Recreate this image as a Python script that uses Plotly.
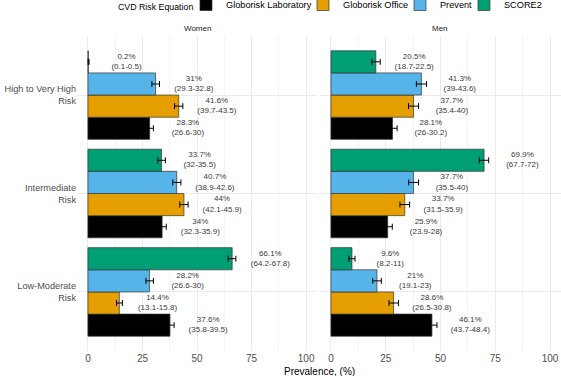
import plotly.graph_objects as go

# ---------------- data ----------------
categories = ["High to Very High Risk", "Intermediate Risk", "Low-Moderate Risk"]
category_ticktext = ["High to Very High<br>Risk", "Intermediate<br>Risk", "Low-Moderate<br>Risk"]
equations = ["Globorisk Laboratory", "Globorisk Office", "Prevent", "SCORE2"]
colors = ["#000000", "#E69F00", "#56B4E9", "#009E73"]
panels = ["Women", "Men"]
legend_title = "CVD Risk Equation"
x_title = "Prevalence, (%)"

# values ordered as categories (High, Intermediate, Low)
women_lab = [28.3, 34, 37.6]
women_lab_lo = [26.6, 32.3, 35.8]
women_lab_hi = [30, 35.9, 39.5]
women_office = [41.6, 44, 14.4]
women_office_lo = [39.7, 42.1, 13.1]
women_office_hi = [43.5, 45.9, 15.8]
women_prevent = [31, 40.7, 28.2]
women_prevent_lo = [29.3, 38.9, 26.6]
women_prevent_hi = [32.8, 42.6, 30]
women_score2 = [0.2, 33.7, 66.1]
women_score2_lo = [0.1, 32, 64.2]
women_score2_hi = [0.5, 35.5, 67.8]

men_lab = [28.1, 25.9, 46.1]
men_lab_lo = [26, 23.9, 43.7]
men_lab_hi = [30.2, 28, 48.4]
men_office = [37.7, 33.7, 28.6]
men_office_lo = [35.4, 31.5, 26.5]
men_office_hi = [40, 35.9, 30.8]
men_prevent = [41.3, 37.7, 21]
men_prevent_lo = [39, 35.5, 19.1]
men_prevent_hi = [43.6, 40, 23]
men_score2 = [20.5, 69.9, 9.6]
men_score2_lo = [18.7, 67.7, 8.2]
men_score2_hi = [22.5, 72, 11]

x_ticks = [0, 25, 50, 75, 100]

data = {
    "Women": [
        (women_lab, women_lab_lo, women_lab_hi),
        (women_office, women_office_lo, women_office_hi),
        (women_prevent, women_prevent_lo, women_prevent_hi),
        (women_score2, women_score2_lo, women_score2_hi),
    ],
    "Men": [
        (men_lab, men_lab_lo, men_lab_hi),
        (men_office, men_office_lo, men_office_hi),
        (men_prevent, men_prevent_lo, men_prevent_hi),
        (men_score2, men_score2_lo, men_score2_hi),
    ],
}

# ---------------- styling ----------------
FONT = "Liberation Sans, Arial, sans-serif"
legend_entry_widths = [72, 52, 19, 42]   # px, compact legend spacing
n_cat = len(categories)
cat_pos = [n_cat - 1 - i for i in range(n_cat)]  # High at top
bar_w = 0.9 / len(equations)
label_offset = 17.5

fig = go.Figure()
for p, panel in enumerate(panels):
    xa = "x" if p == 0 else "x2"
    ya = "y" if p == 0 else "y2"
    for j, eq in enumerate(equations):
        vals, lo, hi = data[panel][j]
        ys = [c + (j - (len(equations) - 1) / 2) * bar_w for c in cat_pos]
        fig.add_trace(go.Bar(
            x=vals, y=ys, orientation="h", width=bar_w,
            name=eq, legendgroup=eq, showlegend=(p == 0),
            legendwidth=legend_entry_widths[j],
            marker=dict(color=colors[j], line=dict(color="#333333", width=0.7)),
            error_x=dict(type="data", symmetric=False,
                         array=[h - v for h, v in zip(hi, vals)],
                         arrayminus=[v - l for v, l in zip(vals, lo)],
                         color="#000000", thickness=1, width=3),
            xaxis=xa, yaxis=ya, hoverinfo="skip",
        ))
        fig.add_trace(go.Scatter(
            x=[v + label_offset for v in vals], y=ys, mode="text",
            text=[f"{v:g}%<br>({l:g}-{h:g})" for v, l, h in zip(vals, lo, hi)],
            textposition="middle center",
            textfont=dict(size=8, color="#3a3a3a", family=FONT),
            showlegend=False, hoverinfo="skip", xaxis=xa, yaxis=ya,
        ))

grid = "#ebebeb"
axis_common = dict(
    range=[-5, 105], tickvals=x_ticks, ticktext=[str(t) for t in x_ticks],
    showgrid=True, gridcolor=grid, gridwidth=1, zeroline=False,
    minor=dict(dtick=12.5, tick0=12.5, showgrid=True, gridcolor="#f3f3f3", gridwidth=0.6),
    tickfont=dict(size=10, color="#4d4d4d", family=FONT), ticks="", ticklen=0,
    showline=False, automargin=False, fixedrange=True,
)
yaxis_common = dict(
    range=[-0.6, n_cat - 1 + 0.6], tickvals=cat_pos, ticktext=category_ticktext,
    showgrid=True, gridcolor=grid, gridwidth=1, zeroline=False, ticks="", ticklen=0,
    automargin=False, fixedrange=True,
)

fig.update_layout(
    width=561, height=376, autosize=False,
    margin=dict(l=77, r=0, t=36, b=25, autoexpand=False),
    paper_bgcolor="white", plot_bgcolor="white",
    barmode="overlay",
    font=dict(family=FONT, color="#000000"),
    xaxis=dict(domain=[0, 0.496], **axis_common),
    xaxis2=dict(domain=[0.502, 1], **axis_common),
    yaxis=dict(anchor="x", tickfont=dict(size=9.2, color="#4d4d4d", family=FONT), **yaxis_common),
    yaxis2=dict(anchor="x2", matches="y", showticklabels=False, **yaxis_common),
    legend=dict(
        orientation="h", x=0.2252, xanchor="left", y=1.146, yanchor="top",
        font=dict(size=9.2, color="#000000"), traceorder="normal",
        itemwidth=30, tracegroupgap=0, borderwidth=0,
    ),
    annotations=[
        dict(text=legend_title, x=0.2438, y=1.092, xref="paper", yref="paper",
             xanchor="right", yanchor="middle", showarrow=False,
             font=dict(size=8.8, color="#000000", family=FONT)),
        dict(text=panels[0], x=0.248, y=1, xref="paper", yref="paper",
             xanchor="center", yanchor="bottom", yshift=1, showarrow=False,
             font=dict(size=8, color="#1a1a1a", family=FONT)),
        dict(text=panels[1], x=0.751, y=1, xref="paper", yref="paper",
             xanchor="center", yanchor="bottom", yshift=1, showarrow=False,
             font=dict(size=8, color="#1a1a1a", family=FONT)),
        dict(text=x_title, x=0.5, y=0, xref="paper", yref="paper",
             xanchor="center", yanchor="top", yshift=-13, showarrow=False,
             font=dict(size=10, color="#000000", family=FONT)),
    ],
)

fig.write_html("out.html", config={"displayModeBar": False},
               post_script="document.body.style.margin='0';")
